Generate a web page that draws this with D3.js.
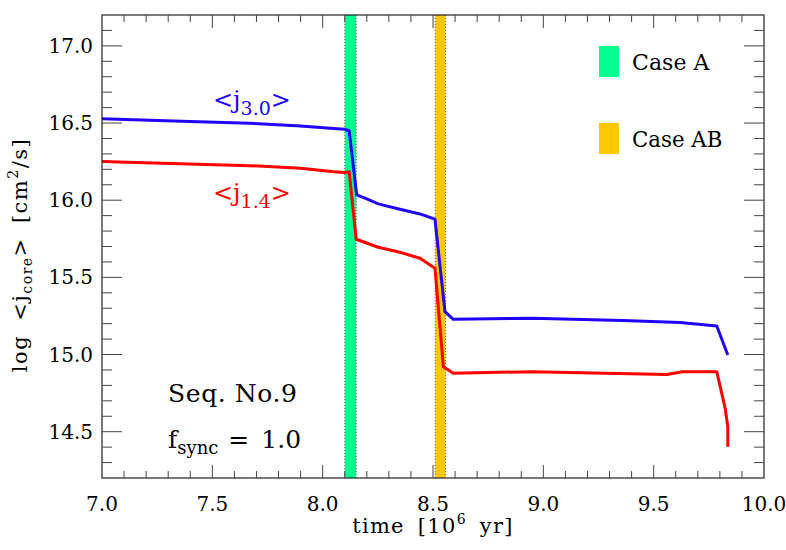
<!DOCTYPE html>
<html><head><meta charset="utf-8">
<script src="https://cdn.jsdelivr.net/npm/d3@7"></script>
<style>body{margin:0;background:#fff}svg{display:block}</style>
</head><body>
<svg id="c" width="786" height="550"></svg>
<script>
// ---- data ----
const blueT = [7.0, 7.4, 7.67, 7.9, 8.05, 8.10, 8.12, 8.154, 8.192, 8.252, 8.35, 8.441, 8.509, 8.554, 8.592, 8.95, 9.36, 9.62, 9.786, 9.836];
const blueV = [16.527, 16.51, 16.499, 16.481, 16.464, 16.459, 16.45, 16.034, 16.013, 15.976, 15.941, 15.911, 15.877, 15.278, 15.228, 15.235, 15.22, 15.207, 15.185, 14.997];
const redT = [7.0, 7.67, 7.9, 8.05, 8.10, 8.12, 8.152, 8.252, 8.35, 8.441, 8.509, 8.547, 8.592, 8.95, 9.56, 9.63, 9.786, 9.824, 9.836, 9.836];
const redV = [16.25, 16.224, 16.207, 16.185, 16.18, 16.185, 15.747, 15.695, 15.663, 15.624, 15.559, 14.921, 14.879, 14.889, 14.87, 14.889, 14.889, 14.652, 14.532, 14.403];
const bandNames = ["Case A", "Case AB"];
const bandStart = [8.10, 8.51];
const bandEnd = [8.152, 8.557];
const bandColors = ["#00ff90", "#ffc800"];
const xTickLabels = ["7.0", "7.5", "8.0", "8.5", "9.0", "9.5", "10.0"];
const yTickLabels = ["14.5", "15.0", "15.5", "16.0", "16.5", "17.0"];

// ---- layout ----
const svg = d3.select("#c");
const L = 102, R = 764, T = 15, B = 478;
const x = d3.scaleLinear().domain([7.0, 10.0]).range([L, R]);
const y = d3.scaleLinear().domain([14.2, 17.2]).range([B, T]);
const serif = "DejaVu Serif";

// bands
const bands = bandNames.map((n, i) => ({n, s: bandStart[i], e: bandEnd[i], c: bandColors[i]}));
svg.selectAll("rect.band").data(bands).join("rect")
  .attr("x", d => x(d.s)).attr("width", d => x(d.e) - x(d.s))
  .attr("y", T).attr("height", B - T).attr("fill", d => d.c);
bands.forEach(d => {
  [d.s, d.e].forEach(v => {
    svg.append("line").attr("x1", x(v)).attr("x2", x(v)).attr("y1", T).attr("y2", B)
      .attr("stroke", "#666").attr("stroke-width", 1).attr("stroke-dasharray", "1,2");
  });
});

// lines
const line = d3.line().x(d => x(d[0])).y(d => y(d[1]));
svg.append("path").datum(blueT.map((t, i) => [t, blueV[i]]))
  .attr("d", line).attr("fill", "none").attr("stroke", "#2200ff").attr("stroke-width", 3).attr("stroke-linejoin", "round");
svg.append("path").datum(redT.map((t, i) => [t, redV[i]]))
  .attr("d", line).attr("fill", "none").attr("stroke", "#ff0000").attr("stroke-width", 3).attr("stroke-linejoin", "round");

// frame & ticks
svg.append("rect").attr("x", L).attr("y", T).attr("width", R - L).attr("height", B - T)
  .attr("fill", "none").attr("stroke", "#222").attr("stroke-width", 1.2);

const xMinor = d3.range(70, 101).map(v => v / 10);
const yMinor = d3.range(143, 172).map(v => v / 10);
const tickCol = "#444";
xMinor.forEach(v => {
  const major = Math.round(v * 10) % 5 === 0;
  const len = major ? 13 : 7;
  if (v > 7.0 && v < 10.0) {
    svg.append("line").attr("x1", x(v)).attr("x2", x(v)).attr("y1", B).attr("y2", B - len).attr("stroke", tickCol);
    svg.append("line").attr("x1", x(v)).attr("x2", x(v)).attr("y1", T).attr("y2", T + len).attr("stroke", tickCol);
  }
});
yMinor.forEach(v => {
  const major = Math.round(v * 10) % 5 === 0;
  const len = major ? 20 : 10;
  svg.append("line").attr("x1", L).attr("x2", L + len).attr("y1", y(v)).attr("y2", y(v)).attr("stroke", tickCol);
  svg.append("line").attr("x1", R).attr("x2", R - len).attr("y1", y(v)).attr("y2", y(v)).attr("stroke", tickCol);
});

// tick labels
svg.selectAll("text.xl").data(xTickLabels).join("text")
  .attr("x", d => x(+d)).attr("y", 511).attr("text-anchor", "middle")
  .attr("font-family", serif).attr("font-size", 20).attr("fill", "#000").text(d => d);
svg.selectAll("text.yl").data(yTickLabels).join("text")
  .attr("x", 93).attr("y", d => y(+d) + 7).attr("text-anchor", "end")
  .attr("font-family", serif).attr("font-size", 20).attr("fill", "#000").text(d => d);

// axis titles
const xt = svg.append("text").attr("x", (L + R) / 2).attr("y", 533).attr("text-anchor", "middle")
  .attr("font-family", serif).attr("font-size", 21).attr("letter-spacing", 1.3).attr("word-spacing", 5).attr("fill", "#000");
xt.append("tspan").text("time [10");
xt.append("tspan").attr("dy", -9).attr("font-size", 14).text("6");
xt.append("tspan").attr("dy", 9).text(" yr]");

const yt = svg.append("text").attr("transform", "translate(27,255) rotate(-90)").attr("text-anchor", "middle")
  .attr("font-family", serif).attr("font-size", 21).attr("letter-spacing", 1.5).attr("word-spacing", 6).attr("fill", "#000");
yt.append("tspan").text("log <j");
yt.append("tspan").attr("dy", 5).attr("font-size", 14).text("core");
yt.append("tspan").attr("dy", -5).text("> [cm");
yt.append("tspan").attr("dy", -9).attr("font-size", 14).text("2");
yt.append("tspan").attr("dy", 9).text("/s]");

// series labels
function jLabel(xp, yp, sub, col) {
  const t = svg.append("text").attr("x", xp).attr("y", yp).attr("font-family", serif)
    .attr("font-size", 24).attr("fill", col);
  t.append("tspan").text("<j");
  t.append("tspan").attr("dy", 7).attr("font-size", 19).text(sub);
  t.append("tspan").attr("dy", -7).text(">");
}
jLabel(213, 108, "3.0", "#2200ff");
jLabel(213, 201, "1.4", "#ff0000");

// annotation
svg.append("text").attr("x", 168).attr("y", 402).attr("font-family", serif).attr("font-size", 25)
  .attr("textLength", 129).attr("lengthAdjust", "spacing").attr("fill", "#000").text("Seq. No.9");
const ft = svg.append("text").attr("x", 168).attr("y", 448).attr("font-family", serif).attr("font-size", 25).attr("fill", "#000");
ft.append("tspan").text("f");
ft.append("tspan").attr("dy", 6).attr("font-size", 18).text("sync");
ft.append("tspan").attr("dy", -6).attr("dx", 10).text("=");
ft.append("tspan").attr("dx", 12).text("1.0");

// legend
bands.forEach((d, i) => {
  const yy = [46, 123][i];
  svg.append("rect").attr("x", 599).attr("y", yy).attr("width", 20).attr("height", 31).attr("fill", d.c);
  svg.append("text").attr("x", 632).attr("y", yy + 24).attr("font-family", serif)
    .attr("font-size", 22).attr("textLength", d.n.length * 12.9).attr("lengthAdjust", "spacingAndGlyphs")
    .attr("fill", "#000").text(d.n);
});
</script>
</body></html>
